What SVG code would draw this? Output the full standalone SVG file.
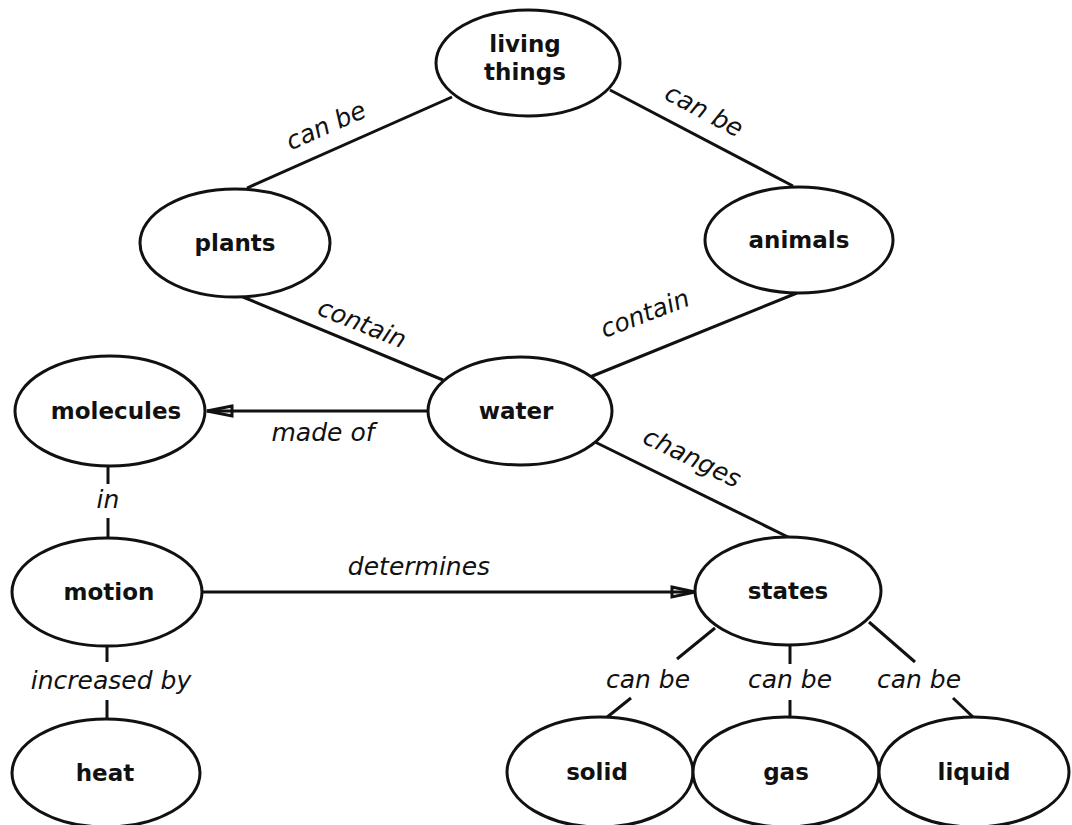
<svg xmlns="http://www.w3.org/2000/svg" width="1072" height="825" viewBox="0 0 1072 825">
<defs>
<style>
.n ellipse{fill:#fff;stroke:#111;stroke-width:3}
.n text{font-family:"DejaVu Sans",sans-serif;font-weight:bold;font-size:23px;fill:#111;text-anchor:middle}
.c line,.c path{stroke:#111;stroke-width:3;fill:none}
.l{font-family:"DejaVu Sans",sans-serif;font-style:italic;font-size:25px;fill:#111;text-anchor:middle}
</style>
</defs>
<rect width="1072" height="825" fill="#fff"/>
<g id="connectors" class="c">
<line x1="452" y1="97" x2="247" y2="188"/>
<line x1="610" y1="90" x2="793" y2="186"/>
<line x1="243" y1="297" x2="443" y2="380"/>
<line x1="797" y1="293" x2="590" y2="377"/>
<line x1="428" y1="411" x2="207" y2="411"/>
<path d="M232,406 L207,411 L232,416 z" fill="#111" stroke-width="1"/>
<line x1="108" y1="466" x2="108" y2="484"/>
<line x1="108" y1="518" x2="108" y2="538"/>
<line x1="202" y1="592" x2="695" y2="592"/>
<path d="M672,587 L695,592 L672,597 z" fill="#111" stroke-width="1"/>
<line x1="107" y1="646" x2="107" y2="662"/>
<line x1="107" y1="700" x2="107" y2="720"/>
<line x1="595" y1="442" x2="790" y2="538"/>
<line x1="715" y1="628" x2="677" y2="659"/>
<line x1="631" y1="698" x2="606" y2="718"/>
<line x1="790" y1="645" x2="790" y2="664"/>
<line x1="790" y1="700" x2="790" y2="718"/>
<line x1="869" y1="622" x2="915" y2="662"/>
<line x1="953" y1="698" x2="974" y2="718"/>
</g>
<g id="labels">
<text class="l" transform="translate(326,126) rotate(-24)" y="8">can be</text>
<text class="l" transform="translate(704,111) rotate(28)" y="8">can be</text>
<text class="l" transform="translate(362,324) rotate(22)" y="8">contain</text>
<text class="l" transform="translate(645,314) rotate(-21)" y="8">contain</text>
<text class="l" transform="translate(692,458) rotate(26)" y="8">changes</text>
<text class="l" x="323" y="441">made of</text>
<text class="l" x="108" y="508">in</text>
<text class="l" x="419" y="575">determines</text>
<text class="l" x="111" y="689">increased by</text>
<text class="l" x="648" y="688">can be</text>
<text class="l" x="790" y="688">can be</text>
<text class="l" x="919" y="688">can be</text>
</g>
<g id="living-things" class="n"><ellipse cx="528" cy="63" rx="92" ry="53"/><text x="525" y="52">living</text><text x="525" y="80">things</text></g>
<g id="plants" class="n"><ellipse cx="235" cy="243" rx="95" ry="54"/><text x="235" y="251">plants</text></g>
<g id="animals" class="n"><ellipse cx="799" cy="240" rx="94" ry="53"/><text x="799" y="248">animals</text></g>
<g id="water" class="n"><ellipse cx="520" cy="411" rx="92" ry="54"/><text x="516" y="419">water</text></g>
<g id="molecules" class="n"><ellipse cx="110" cy="411" rx="95" ry="55"/><text x="116" y="419">molecules</text></g>
<g id="motion" class="n"><ellipse cx="107" cy="592" rx="95" ry="54"/><text x="109" y="600">motion</text></g>
<g id="states" class="n"><ellipse cx="788" cy="591" rx="93" ry="54"/><text x="788" y="599">states</text></g>
<g id="heat" class="n"><ellipse cx="106" cy="773" rx="94" ry="54"/><text x="105" y="781">heat</text></g>
<g id="solid" class="n"><ellipse cx="600" cy="772" rx="93" ry="55"/><text x="597" y="780">solid</text></g>
<g id="gas" class="n"><ellipse cx="786" cy="772" rx="93" ry="55"/><text x="786" y="780">gas</text></g>
<g id="liquid" class="n"><ellipse cx="974" cy="772" rx="95" ry="55"/><text x="974" y="780">liquid</text></g>
</svg>
